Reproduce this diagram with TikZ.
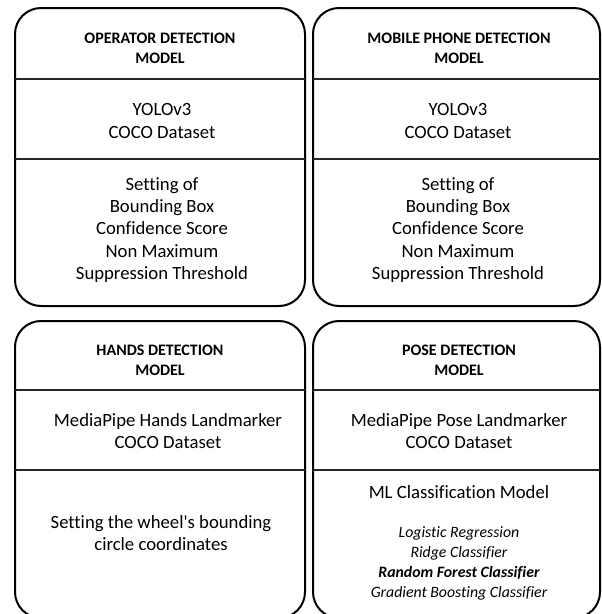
\documentclass[tikz,border=0pt]{standalone}
\usepackage{fontspec}
\setmainfont{Carlito}[Ligatures=NoCommon]
\newfontfamily\carlitoplain{Carlito}[Ligatures=NoCommon]
\begin{document}
\begin{tikzpicture}[x=1pt,y=-1pt,
  panel/.style={draw=black,line width=2pt,rounded corners=26pt},
  divider/.style={draw=black!85,line width=1.3pt},
  ttl/.style={align=center,inner sep=0pt,font=\bfseries\fontsize{16}{20}\selectfont},
  body/.style={align=center,inner sep=0pt,font=\fontsize{18.7}{22.3}\selectfont},
  lst/.style={align=center,inner sep=0pt,font=\itshape\fontsize{15.8}{20}\selectfont}]
\useasboundingbox (0,0) rectangle (602,614);
\clip (0,0) rectangle (602,614);
% panels
\draw[panel] (15,8) rectangle (305,306);
\draw[panel] (313,8) rectangle (600,306);
\draw[panel] (15,321) rectangle (305,618);
\draw[panel] (313,321) rectangle (600,618);
% dividers
\draw[divider] (15,79) -- (305,79);
\draw[divider] (15,159) -- (305,159);
\draw[divider] (313,79) -- (600,79);
\draw[divider] (313,159) -- (600,159);
\draw[divider] (15,390) -- (305,390);
\draw[divider] (15,470) -- (305,470);
\draw[divider] (313,390) -- (600,390);
\draw[divider] (313,470) -- (600,470);
% box 1
\node[ttl] (t1) at (160,48) {OPERATOR DETECTION\\MODEL};
\node[body] (a1) at (162,121) {YOLOv3\\COCO Dataset};
\node[body] (b1) at (162,230) {Setting of\\Bounding Box\\Confidence Score\\Non Maximum\\Suppression Threshold};
% box 2
\node[ttl] (t2) at (459,48) {MOBILE PHONE DETECTION\\MODEL};
\node[body] (a2) at (458,121) {YOLOv3\\COCO Dataset};
\node[body] (b2) at (458,230) {Setting of\\Bounding Box\\Confidence Score\\Non Maximum\\Suppression Threshold};
% box 3
\node[ttl] (t3) at (160,360) {HANDS DETECTION\\MODEL};
\node[body] (a3) at (168,431) {MediaPipe Hands Landmarker\\COCO Dataset};
\node[body] (b3) at (161,533) {Setting the wheel{\carlitoplain\char39}s bounding\\circle coordinates};
% box 4
\node[ttl] (t4) at (459,360) {POSE DETECTION\\MODEL};
\node[body] (a4) at (459,431) {MediaPipe Pose Landmarker\\COCO Dataset};
\node[body] (m4) at (459,492) {ML Classification Model};
\node[lst] (l4) at (459,563) {Logistic Regression\\Ridge Classifier\\\textbf{Random Forest Classifier}\\Gradient Boosting Classifier};
\end{tikzpicture}
\end{document}
